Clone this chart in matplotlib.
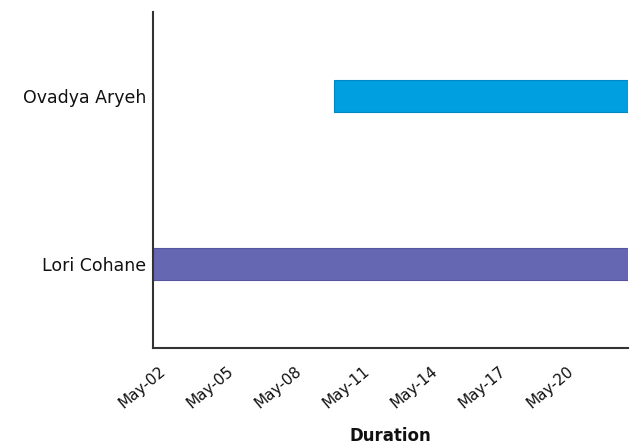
import matplotlib.pyplot as plt
import matplotlib.dates as mdates
import matplotlib.transforms as mtransforms
import pandas as pd

# gantt data
people = ["Lori Cohane", "Ovadya Aryeh"]
starts = ["2023-05-02", "2023-05-10"]
ends = ["2023-05-23", "2023-05-23"]
colors = ["#6667b2", "#009fe0"]
edge_colors = ["#5556a0", "#0088c4"]
tick_days = ["2023-05-02", "2023-05-05", "2023-05-08", "2023-05-11",
             "2023-05-14", "2023-05-17", "2023-05-20"]

start_dates = pd.to_datetime(starts)
end_dates = pd.to_datetime(ends)
tick_dates = pd.to_datetime(tick_days)

plt.rcParams['font.family'] = ['DejaVu Sans']

fig = plt.figure(figsize=(6.34, 4.46), dpi=100)
ax = fig.add_axes([0.2413, 0.2197, 0.7492, 0.7533])

left = mdates.date2num(start_dates)
width = mdates.date2num(end_dates) - left
ax.barh(range(len(people)), width, left=left, height=0.19,
        color=colors, edgecolor=edge_colors, linewidth=0.8)

ax.set_yticks(range(len(people)))
ax.set_yticklabels(people, fontsize=12.5)
ax.set_ylim(-0.5, 1.5)

ax.set_xlim(mdates.date2num(pd.Timestamp("2023-05-02")), mdates.date2num(pd.Timestamp("2023-05-23")))
tick_pos = mdates.date2num(tick_dates)
ax.set_xticks(tick_pos)
ax.set_xticklabels([])

# rotated date labels, nudged a bit right of the tick like the original
offset = mtransforms.ScaledTranslation(4.5 / 72, -11 / 72, fig.dpi_scale_trans)
for pos, d in zip(tick_pos, tick_dates):
    ax.text(pos, 0, d.strftime("%b-%d"), transform=ax.get_xaxis_transform() + offset,
            rotation=40, rotation_mode='anchor', ha='right', va='top',
            fontsize=11, color='#111111')

ax.tick_params(axis='both', length=0, colors='#111111')
ax.tick_params(axis='y', pad=5)

ax.set_xlabel("Duration", fontsize=12, fontweight='bold', color='#111111', va='center')
ax.xaxis.set_label_coords(0.5, -0.263)

ax.spines['top'].set_visible(False)
ax.spines['right'].set_visible(False)
for s in ['left', 'bottom']:
    ax.spines[s].set_color('#333333')
    ax.spines[s].set_linewidth(1.5)

fig.savefig("out.png", dpi=100)
